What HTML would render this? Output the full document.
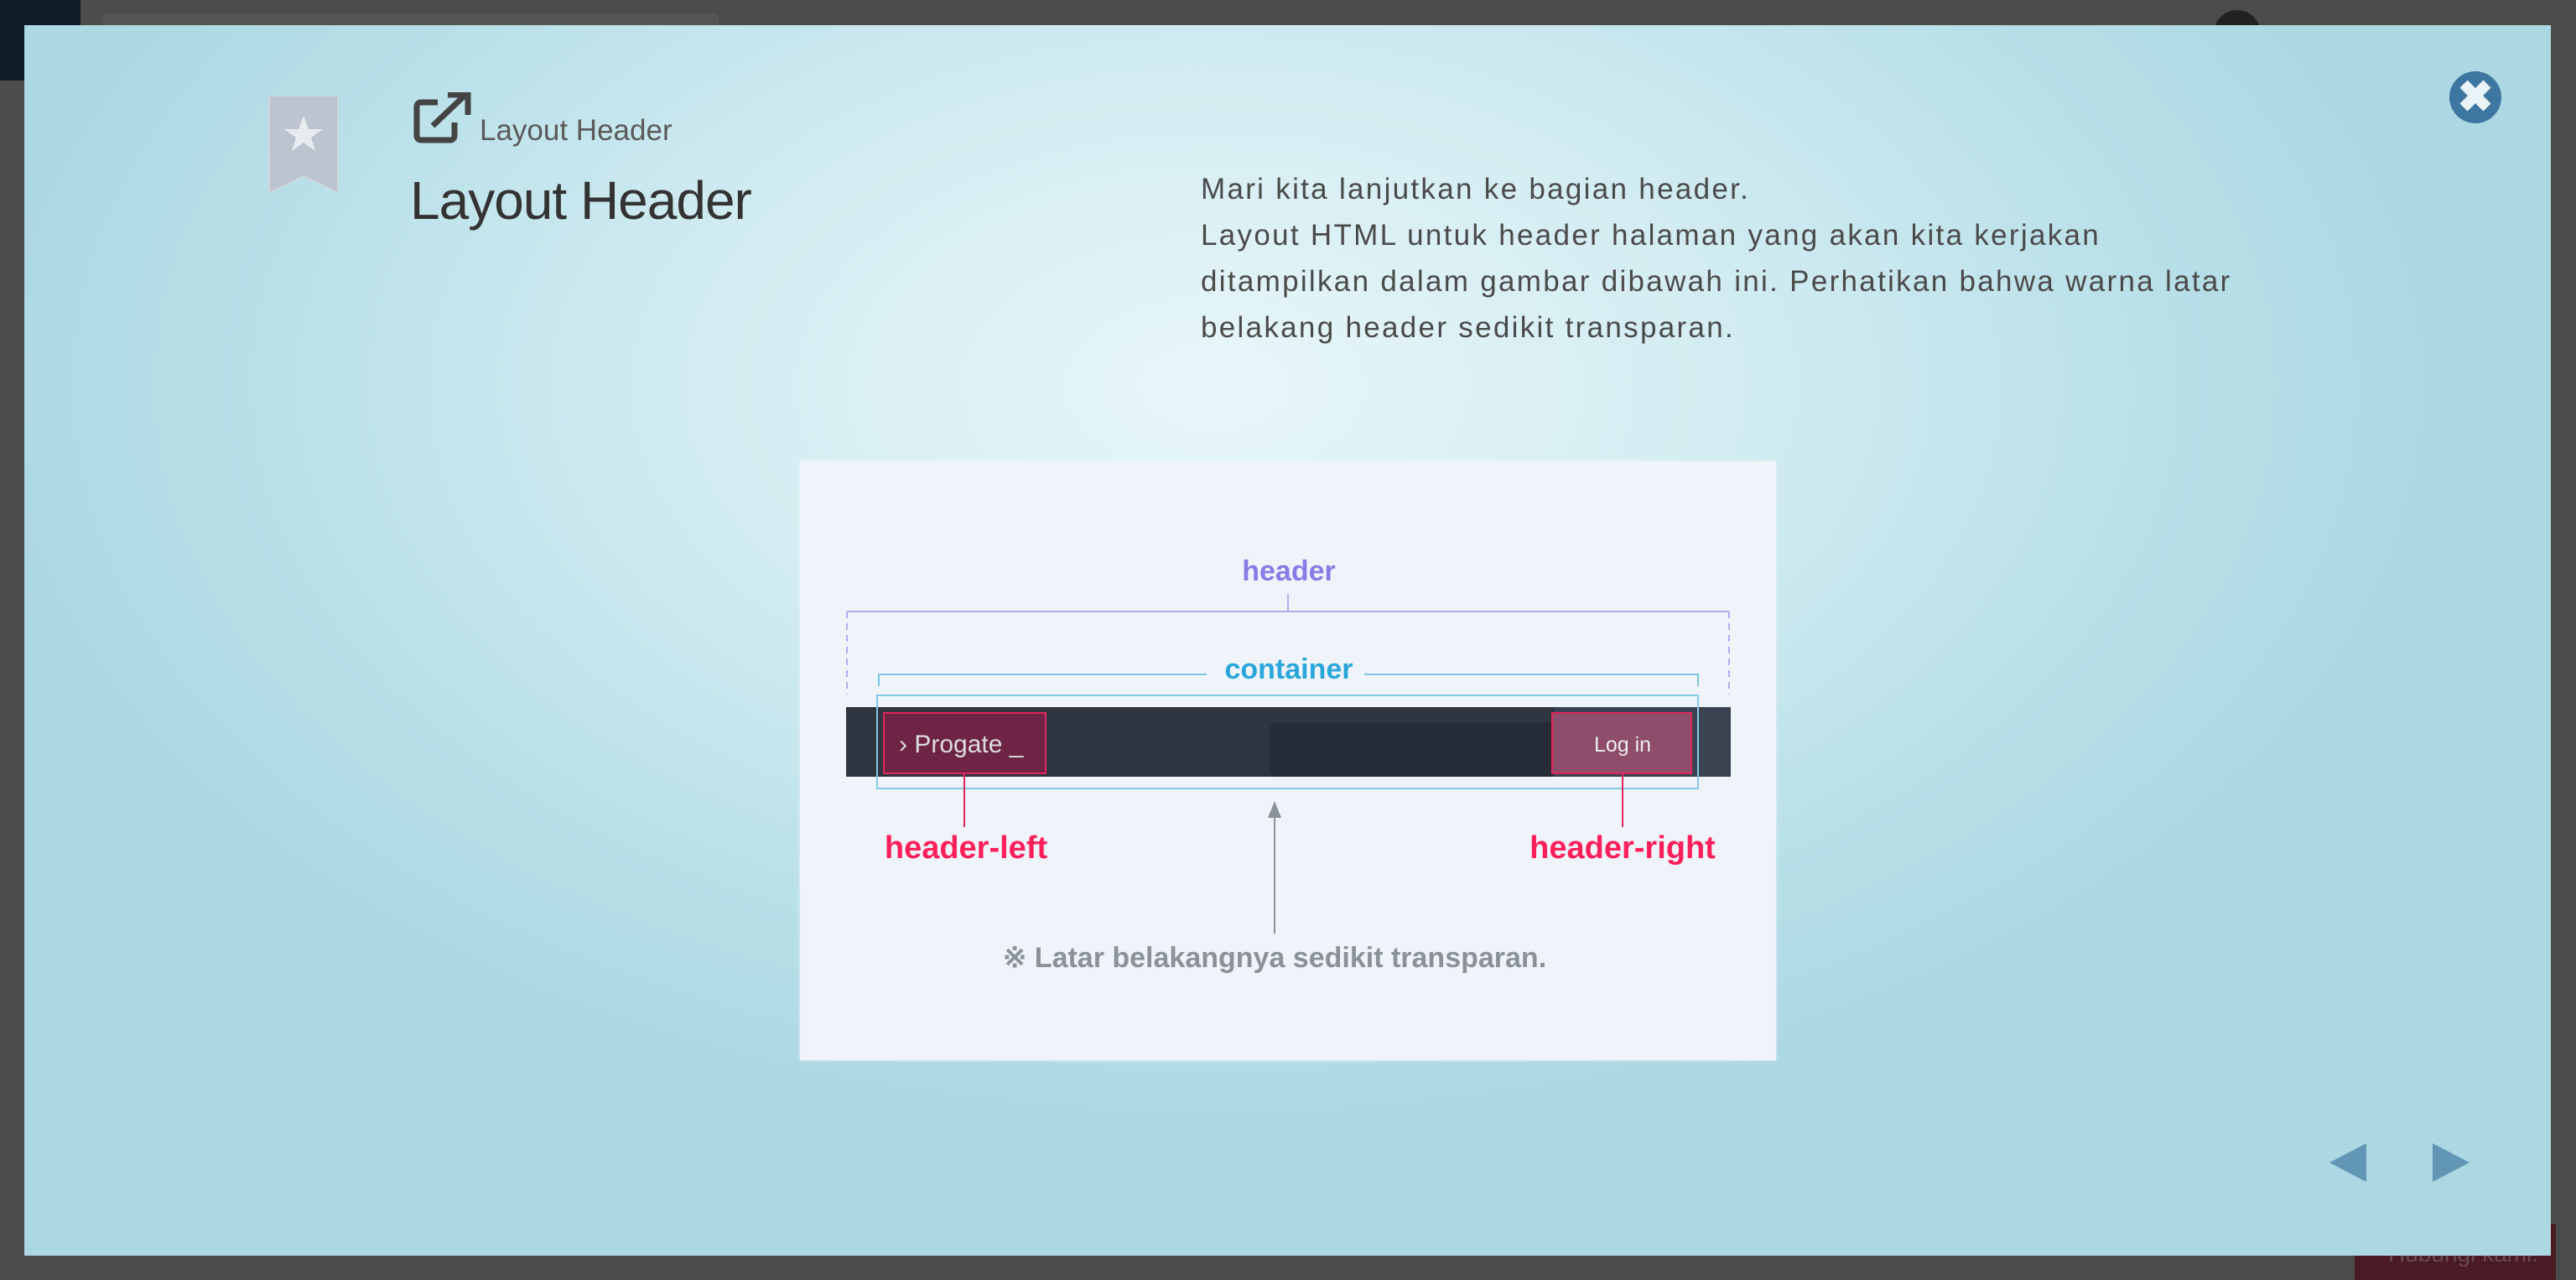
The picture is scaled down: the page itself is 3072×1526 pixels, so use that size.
<!DOCTYPE html>
<html><head><meta charset="utf-8">
<style>
*{margin:0;padding:0;box-sizing:border-box}
body{width:3072px;height:1526px;overflow:hidden;background:#4c4c4c;position:relative;font-family:"Liberation Sans",sans-serif}
.a{position:absolute}
#modal{left:29px;top:30px;width:3013px;height:1467px;background:radial-gradient(ellipse 1500px 900px at 1420px 430px,#e8f6f9 0%,#d3edf2 40%,#b6dee7 80%,#acd8e3 100%)}
.p{font-size:35px;color:#4a4a4a;line-height:55px;letter-spacing:2.3px}
.hw{font-family:"Liberation Sans",sans-serif;font-weight:bold;white-space:nowrap;transform:translateX(-50%)}
</style></head><body>
<div class="a" style="left:0;top:0;width:96px;height:96px;background:#0f1c26"></div>
<div class="a" style="left:122px;top:16px;width:735px;height:16px;background:#555;border-radius:4px 4px 0 0"></div>
<div class="a" style="left:2640px;top:12px;width:56px;height:30px;border-radius:28px 28px 0 0;background:#222"></div>
<div class="a" style="left:2808px;top:1459px;width:240px;height:67px;background:#4a1b24;color:#6a4a50;font-size:28px;padding:20px 0 0 40px">Hubungi kami.</div>

<div id="modal" class="a">
 <svg class="a" style="left:290px;top:84px" width="86" height="116" viewBox="0 0 86 116">
  <path d="M2 0H84V116L43 96L2 116Z" fill="#bcc4cf" stroke="#d0d6de" stroke-width="2"/>
  <polygon points="43,24 49,40 66,40 52,50 57,66 43,56 29,66 34,50 20,40 37,40" fill="#e8ecf0"/>
 </svg>
 <svg class="a" style="left:463px;top:80px" width="70" height="62" viewBox="0 0 70 62">
  <path d="M30 12H10a5 5 0 0 0-5 5v35a5 5 0 0 0 5 5h35a5 5 0 0 0 5-5V36" fill="none" stroke="#444" stroke-width="7"/>
  <path d="M24 40L62 4M42 3H66V27" fill="none" stroke="#444" stroke-width="7"/>
 </svg>
 <div class="a" style="left:543px;top:106px;font-size:35px;color:#5a5a5a">Layout Header</div>
 <div class="a" style="left:460px;top:172px;font-size:64px;color:#333;letter-spacing:-1px">Layout Header</div>
 <div class="a p" style="left:1403px;top:168px;width:1400px">Mari kita lanjutkan ke bagian header.<br>Layout HTML untuk header halaman yang akan kita kerjakan<br>ditampilkan dalam gambar dibawah ini. Perhatikan bahwa warna latar<br>belakang header sedikit transparan.</div>
 <div class="a" style="left:2892px;top:55px;width:62px;height:62px;border-radius:50%;background:#3d76a0;color:#e9f4f8;font-size:52px;font-weight:bold;text-align:center;line-height:62px">✖</div>
 <svg class="a" style="left:2749px;top:1333px" width="44" height="46"><polygon points="0,23 44,0 44,46" fill="#6196b5"/></svg>
 <svg class="a" style="left:2872px;top:1333px" width="44" height="46"><polygon points="44,23 0,0 0,46" fill="#6196b5"/></svg>

 <div class="a" style="left:925px;top:520px;width:1164px;height:714px;background:#eff4fb;box-shadow:0 0 4px rgba(255,255,255,.6)">
  <svg class="a" style="left:0;top:0" width="1164" height="714">
   <line x1="56" y1="179" x2="1108" y2="179" stroke="#b4aaf0" stroke-width="2"/>
   <line x1="582" y1="158" x2="582" y2="179" stroke="#b4aaf0" stroke-width="2"/>
   <line x1="56" y1="179" x2="56" y2="278" stroke="#b4aaf0" stroke-width="2" stroke-dasharray="8,6"/>
   <line x1="1108" y1="179" x2="1108" y2="278" stroke="#b4aaf0" stroke-width="2" stroke-dasharray="8,6"/>
   <path d="M94 268V254H485M673 254H1071V268" fill="none" stroke="#7cc4e6" stroke-width="2"/>
   <rect x="55" y="293" width="1055" height="83" fill="#2e3440"/>
   <rect x="560" y="312" width="350" height="64" fill="#252c38" rx="8"/>
   <rect x="899" y="293" width="211" height="83" fill="#3a4450"/>
   <rect x="92" y="279" width="979" height="111" fill="none" stroke="#86c8e8" stroke-width="2"/>
   <rect x="100" y="300" width="193" height="72" fill="#6e2444" stroke="#e0265a" stroke-width="2"/>
   <rect x="897" y="300" width="166" height="72" fill="#8e4d6a" stroke="#e0265a" stroke-width="2"/>
   <text x="118" y="347" font-size="30" fill="#ddd" font-family="Liberation Sans">› Progate _</text>
   <text x="981" y="346" font-size="25" fill="#eee" text-anchor="middle" font-family="Liberation Sans">Log in</text>
   <line x1="196" y1="372" x2="196" y2="436" stroke="#e0265a" stroke-width="2"/>
   <line x1="981" y1="372" x2="981" y2="436" stroke="#e0265a" stroke-width="2"/>
   <line x1="566" y1="420" x2="566" y2="563" stroke="#8a9298" stroke-width="2"/>
   <polygon points="566,405 558,425 574,425" fill="#8a9298"/>
  </svg>
  <div class="a hw" style="left:583px;top:112px;font-size:34px;color:#8a7ae6">header</div>
  <div class="a hw" style="left:583px;top:229px;font-size:34px;color:#2aa6dc">container</div>
  <div class="a hw" style="left:198px;top:440px;font-size:38px;color:#ff1f5a">header-left</div>
  <div class="a hw" style="left:981px;top:440px;font-size:38px;color:#ff1f5a">header-right</div>
  <div class="a hw" style="left:566px;top:572px;font-size:34px;color:#8a9298">※ Latar belakangnya sedikit transparan.</div>
 </div>
</div>
</body></html>
